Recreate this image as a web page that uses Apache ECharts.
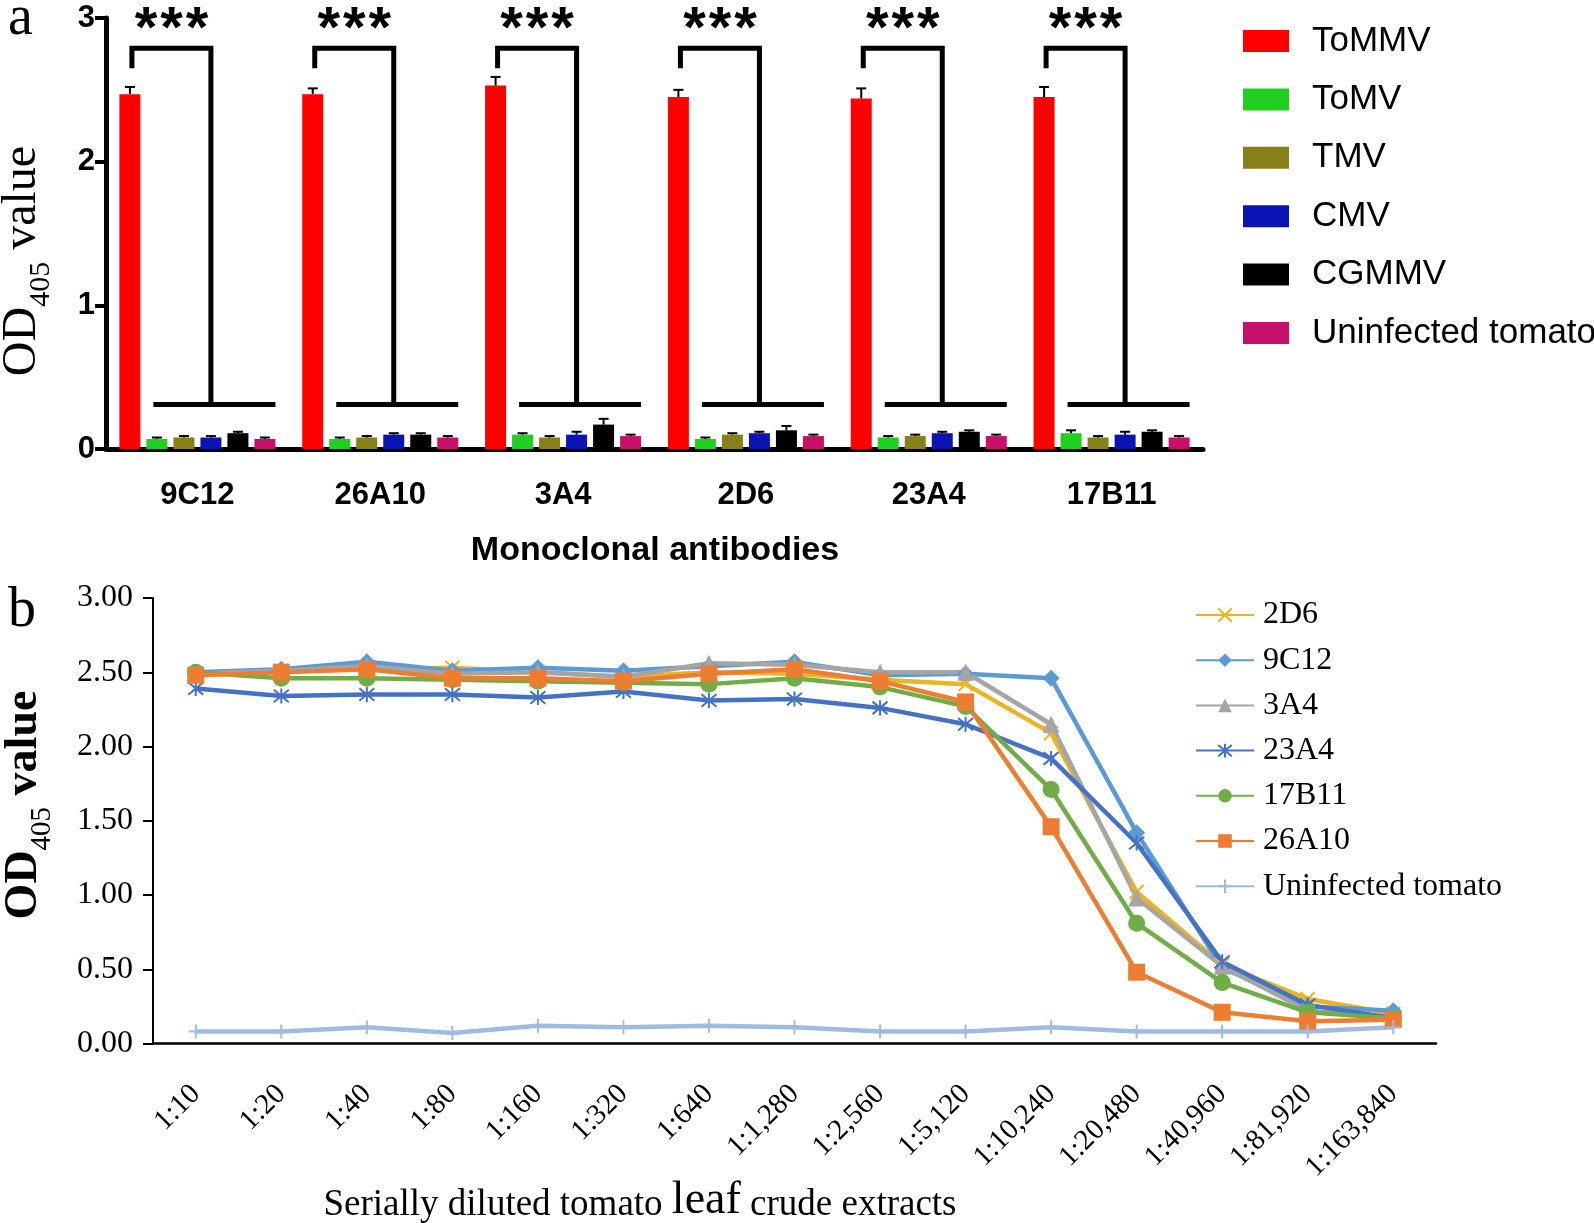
<!DOCTYPE html>
<html>
<head>
<meta charset="utf-8">
<script src="https://cdn.jsdelivr.net/npm/echarts@6/dist/echarts.min.js"></script>
<style>
  html, body { margin: 0; padding: 0; background: #fff; }
  #main { width: 1594px; height: 1223px; }
</style>
</head>
<body>
<div id="main"></div>
<script>
// ---- panel a: specificity of the mAbs ----
const antibodies = ['9C12', '26A10', '3A4', '2D6', '23A4', '17B11'];
const viruses = ['ToMMV', 'ToMV', 'TMV', 'CMV', 'CGMMV', 'Uninfected tomato'];
const tommvMean = [2.47, 2.47, 2.53, 2.45, 2.44, 2.45];
const tommvErr = [0.05, 0.04, 0.06, 0.05, 0.07, 0.07];
const tomvMean = [0.07, 0.07, 0.10, 0.07, 0.08, 0.11];
const tomvErr = [0.01, 0.01, 0.01, 0.01, 0.01, 0.02];
const tmvMean = [0.08, 0.08, 0.08, 0.10, 0.09, 0.08];
const tmvErr = [0.01, 0.01, 0.01, 0.01, 0.01, 0.01];
const cmvMean = [0.08, 0.10, 0.10, 0.11, 0.11, 0.10];
const cmvErr = [0.01, 0.01, 0.02, 0.01, 0.01, 0.02];
const cgmmvMean = [0.11, 0.10, 0.17, 0.13, 0.12, 0.12];
const cgmmvErr = [0.01, 0.01, 0.04, 0.03, 0.01, 0.01];
const healthyMean = [0.07, 0.08, 0.09, 0.09, 0.09, 0.08];
const healthyErr = [0.01, 0.01, 0.01, 0.01, 0.01, 0.01];
const yTicksA = [0, 1, 2, 3];
// significance bracket levels (data units)
const bracketStart = 2.65;
const bracketTop = 2.79;
const bracketLow = 0.31;

// ---- panel b: sensitivity (dilution series) ----
const dilutions = ['1:10', '1:20', '1:40', '1:80', '1:160', '1:320', '1:640', '1:1,280',
  '1:2,560', '1:5,120', '1:10,240', '1:20,480', '1:40,960', '1:81,920', '1:163,840'];
const mab2D6 = [2.48, 2.51, 2.52, 2.53, 2.50, 2.47, 2.50, 2.49, 2.45, 2.42, 2.09, 1.02, 0.53, 0.30, 0.20];
const mab9C12 = [2.50, 2.52, 2.57, 2.51, 2.53, 2.51, 2.54, 2.57, 2.48, 2.49, 2.46, 1.42, 0.51, 0.25, 0.22];
const mab3A4 = [2.49, 2.51, 2.54, 2.49, 2.50, 2.47, 2.56, 2.55, 2.50, 2.50, 2.15, 0.98, 0.52, 0.22, 0.18];
const mab23A4 = [2.39, 2.34, 2.35, 2.35, 2.33, 2.37, 2.31, 2.32, 2.26, 2.15, 1.92, 1.35, 0.55, 0.26, 0.17];
const mab17B11 = [2.50, 2.46, 2.46, 2.45, 2.44, 2.43, 2.42, 2.46, 2.40, 2.27, 1.71, 0.81, 0.41, 0.21, 0.17];
const mab26A10 = [2.48, 2.50, 2.52, 2.46, 2.46, 2.44, 2.49, 2.52, 2.44, 2.30, 1.46, 0.48, 0.21, 0.15, 0.16];
const uninfected = [0.08, 0.08, 0.11, 0.07, 0.12, 0.11, 0.12, 0.11, 0.08, 0.08, 0.11, 0.08, 0.08, 0.08, 0.11];

const SANS = 'Liberation Sans, Arial, sans-serif';
const SERIF = 'Liberation Serif, Times New Roman, serif';

const BAR_W = 21;
const BAR_STEP = 27;

const barColors = ['#ff0000', '#1fd01f', '#878018', '#0a14b4', '#000000', '#c8106a'];
const means = [tommvMean, tomvMean, tmvMean, cmvMean, cgmmvMean, healthyMean];
const errs = [tommvErr, tomvErr, tmvErr, cmvErr, cgmmvErr, healthyErr];

// bar series (prefixed names so the legend of panel b does not clash)
const barSeries = viruses.map((v, k) => ({
  name: 'a:' + v,
  type: 'bar',
  xAxisIndex: 0,
  yAxisIndex: 0,
  barWidth: BAR_W,
  barGap: (100 * (BAR_STEP - BAR_W) / BAR_W).toFixed(1) + '%',
  itemStyle: { color: barColors[k] },
  data: means[k],
}));

// error bars, upper half only
const errData = [];
means.forEach((m, k) => {
  m.forEach((val, c) => errData.push([c, k, val, errs[k][c]]));
});

const errSeries = {
  type: 'custom',
  xAxisIndex: 0,
  yAxisIndex: 0,
  clip: false,
  z: 5,
  encode: { x: 0, y: 2 },
  data: errData,
  renderItem(params, api) {
    const c = api.value(0);
    const k = api.value(1);
    const m = api.value(2);
    const e = api.value(3);
    const base = api.coord([c, m]);
    const top = api.coord([c, m + e]);
    const x = base[0] + (k - 2.5) * BAR_STEP;
    const st = { stroke: '#000', lineWidth: 2 };
    return {
      type: 'group',
      children: [
        { type: 'line', shape: { x1: x, y1: base[1], x2: x, y2: top[1] }, style: st },
        { type: 'line', shape: { x1: x - 5, y1: top[1], x2: x + 5, y2: top[1] }, style: st },
      ],
    };
  },
};

// *** brackets above each antibody group
const bracketSeries = {
  type: 'custom',
  xAxisIndex: 0,
  yAxisIndex: 0,
  clip: false,
  z: 6,
  encode: { x: 0, y: 1 },
  data: antibodies.map((a, c) => [c, bracketTop]),
  renderItem(params, api) {
    const c = api.value(0);
    const cx = api.coord([c, 0])[0];
    const y0 = api.coord([c, bracketStart])[1];
    const y1 = api.coord([c, bracketTop])[1];
    const y2 = api.coord([c, bracketLow])[1];
    const xl = cx - 2.5 * BAR_STEP + 2;
    const xr = cx + 0.5 * BAR_STEP;
    const st = { stroke: '#000', lineWidth: 5, fill: null, lineJoin: 'miter' };
    const children = [
      { type: 'polyline', shape: { points: [[xl, y0], [xl, y1], [xr, y1], [xr, y2]] }, style: st },
      { type: 'line', shape: { x1: cx - 44, y1: y2, x2: cx + 78, y2: y2 }, style: st },
    ];
    const sx = (xl + xr) / 2;
    [-1, 0, 1].forEach((d) => {
      children.push({
        type: 'text',
        x: sx + d * 25.5,
        y: 31,
        style: {
          text: '*',
          font: 'bold 58px ' + SANS,
          fill: '#000',
          align: 'center',
          verticalAlign: 'middle',
        },
      });
    });
    return { type: 'group', children };
  },
};

// ---- panel b line series ----
const pathX = 'path://M0,0L10,10M0,10L10,0';
const pathStar = 'path://M0,0L10,10M0,10L10,0M5,-1L5,11';
const pathPlus = 'path://M5,0L5,10M1,5L9,5';

const lineDefs = [
  { name: '2D6', data: mab2D6, color: '#ecb424', symbol: pathX, size: 14, stroke: true },
  { name: '9C12', data: mab9C12, color: '#5b9bd5', symbol: 'diamond', size: 17 },
  { name: '3A4', data: mab3A4, color: '#a5a5a5', symbol: 'triangle', size: 17 },
  { name: '23A4', data: mab23A4, color: '#4472c4', symbol: pathStar, size: 15, stroke: true },
  { name: '17B11', data: mab17B11, color: '#70ad47', symbol: 'circle', size: 17 },
  { name: '26A10', data: mab26A10, color: '#ed7d31', symbol: 'rect', size: 17 },
  { name: 'Uninfected tomato', data: uninfected, color: '#a0bbe0', symbol: pathPlus, size: 14, stroke: true },
];

const lineSeries = lineDefs.map((d) => ({
  name: d.name,
  type: 'line',
  xAxisIndex: 1,
  yAxisIndex: 1,
  data: d.data,
  symbol: d.symbol,
  symbolSize: d.size,
  showAllSymbol: true,
  lineStyle: { color: d.color, width: 4.5 },
  itemStyle: d.stroke
    ? { color: d.color, borderColor: d.color, borderWidth: 2 }
    : { color: d.color, borderWidth: 0 },
}));

const chart = echarts.init(document.getElementById('main'));

const option = {
  animation: false,
  backgroundColor: '#fff',
  grid: [
    { left: 106, top: 18, width: 1097, height: 431 },
    { left: 153, top: 598, width: 1283, height: 445.5 },
  ],
  legend: [
    {
      data: viruses.map((v) => 'a:' + v),
      formatter: (n) => n.slice(2),
      orient: 'vertical',
      left: 1238,
      top: 16,
      icon: 'rect',
      itemWidth: 46,
      itemHeight: 22,
      itemGap: 18.4,
      selectedMode: false,
      textStyle: { fontFamily: SANS, fontSize: 35, color: '#000', lineHeight: 40, padding: [0, 0, 0, 18] },
    },
    {
      data: lineDefs.map((d) => d.name),
      orient: 'vertical',
      left: 1190,
      top: 592,
      itemWidth: 58,
      itemHeight: 17,
      itemGap: 9.2,
      selectedMode: false,
      textStyle: { fontFamily: SERIF, fontSize: 32, color: '#000', lineHeight: 36, padding: [0, 0, 0, 4] },
    },
  ],
  xAxis: [
    {
      type: 'category',
      gridIndex: 0,
      data: antibodies,
      axisLine: { lineStyle: { color: '#000', width: 5 } },
      axisTick: { alignWithLabel: true, length: 17, lineStyle: { color: '#000', width: 4 } },
      axisLabel: { fontFamily: SANS, fontWeight: 'bold', fontSize: 31, color: '#000', margin: 31 },
    },
    {
      type: 'category',
      gridIndex: 1,
      data: dilutions,
      boundaryGap: true,
      axisLine: { lineStyle: { color: '#000', width: 2.5 } },
      axisTick: { length: 14, lineStyle: { color: '#000', width: 2 } },
      axisLabel: { fontFamily: SERIF, fontSize: 29, color: '#000', rotate: 45, margin: 46, interval: 0 },
    },
  ],
  yAxis: [
    {
      type: 'value',
      gridIndex: 0,
      min: yTicksA[0],
      max: yTicksA[yTicksA.length - 1],
      interval: 1,
      splitLine: { show: false },
      axisLine: { show: true, lineStyle: { color: '#000', width: 5 } },
      axisTick: { show: true, length: 11, lineStyle: { color: '#000', width: 4 } },
      axisLabel: { fontFamily: SANS, fontWeight: 'bold', fontSize: 31, color: '#000', margin: 11 },
    },
    {
      type: 'value',
      gridIndex: 1,
      min: 0,
      max: 3,
      interval: 0.5,
      splitLine: { show: false },
      axisLine: { show: true, lineStyle: { color: '#000', width: 2 } },
      axisTick: { show: true, length: 10, lineStyle: { color: '#000', width: 2 } },
      axisLabel: { fontFamily: SERIF, fontSize: 32, color: '#000', margin: 20, formatter: (v) => v.toFixed(2) },
    },
  ],
  graphic: [
    { type: 'text', x: 8, y: 19, style: { text: 'a', font: '56px ' + SERIF, fill: '#000', verticalAlign: 'middle' } },
    { type: 'text', x: 8, y: 611, style: { text: 'b', font: '56px ' + SERIF, fill: '#000', verticalAlign: 'middle' } },
    {
      type: 'text', x: 27, y: 261, rotation: Math.PI / 2,
      style: {
        text: '{m|OD}{s|405}{m| value}', align: 'center', verticalAlign: 'middle', fill: '#000',
        rich: {
          m: { fontFamily: SERIF, fontSize: 48, verticalAlign: 'bottom', padding: [0, 0, 10, 0] },
          s: { fontFamily: SERIF, fontSize: 30, verticalAlign: 'bottom' },
        },
      },
    },
    {
      type: 'text', x: 29, y: 805, rotation: Math.PI / 2,
      style: {
        text: '{m|OD}{s|405}{m| value}', align: 'center', verticalAlign: 'middle', fill: '#000',
        rich: {
          m: { fontFamily: SERIF, fontWeight: 'bold', fontSize: 46, verticalAlign: 'bottom', padding: [0, 0, 10, 0] },
          s: { fontFamily: SERIF, fontSize: 29, verticalAlign: 'bottom' },
        },
      },
    },
    {
      type: 'text', x: 655, y: 551,
      style: { text: 'Monoclonal antibodies', font: 'bold 34px ' + SANS, fill: '#000', align: 'center', verticalAlign: 'middle' },
    },
    {
      type: 'text', x: 640, y: 1201,
      style: {
        text: '{n|Serially diluted tomato }{l|leaf}{n| crude extracts}', align: 'center', verticalAlign: 'middle', fill: '#000',
        rich: {
          n: { fontFamily: SERIF, fontSize: 37, verticalAlign: 'bottom' },
          l: { fontFamily: SERIF, fontSize: 46, verticalAlign: 'bottom' },
        },
      },
    },
  ],
  series: [...barSeries, errSeries, bracketSeries, ...lineSeries],
};

chart.setOption(option);
</script>
</body>
</html>
